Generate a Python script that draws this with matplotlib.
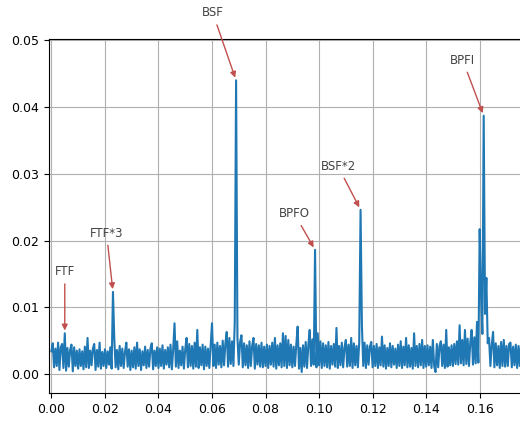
import numpy as np
import matplotlib
matplotlib.use('Agg')
import matplotlib.pyplot as plt

# envelope spectrum, amplitude in units of 1e-4, one bin every 0.0005
freq_step = 0.0005
amp_e4 = [
    34, 46, 10, 38, 12, 47, 6, 40, 45, 9, 61, 5, 39, 11, 36, 44, 4, 40, 12, 35,
    8, 37, 12, 34, 7, 41, 10, 54, 9, 35, 13, 38, 45, 6, 36, 11, 47, 8, 33, 12,
    37, 9, 34, 14, 40, 8, 123, 52, 10, 36, 7, 42, 12, 38, 9, 33, 47, 11, 37, 6,
    35, 10, 40, 8, 47, 12, 37, 6, 34, 13, 41, 9, 36, 11, 38, 46, 7, 35, 12, 40,
    9, 38, 12, 43, 8, 36, 14, 40, 10, 44, 7, 37, 76, 11, 49, 9, 35, 13, 41, 8,
    37, 54, 10, 45, 12, 42, 8, 47, 11, 66, 9, 40, 13, 44, 7, 41, 12, 38, 9, 43,
    76, 12, 44, 9, 47, 14, 42, 10, 50, 13, 46, 63, 11, 54, 15, 49, 12, 78, 440, 55,
    14, 48, 58, 10, 46, 13, 43, 9, 49, 12, 42, 54, 8, 45, 14, 43, 11, 47, 10, 41,
    12, 44, 9, 42, 14, 47, 11, 54, 8, 43, 13, 46, 10, 61, 12, 57, 9, 51, 13, 44,
    10, 41, 12, 45, 71, 8, 39, 3, 43, 11, 48, 9, 44, 66, 12, 52, 14, 186, 10, 61,
    13, 49, 9, 46, 12, 43, 10, 48, 8, 42, 14, 45, 11, 69, 9, 42, 13, 47, 10, 40,
    51, 11, 44, 12, 54, 9, 46, 13, 42, 10, 48, 246, 73, 12, 47, 9, 43, 14, 41, 48,
    10, 42, 12, 45, 9, 40, 13, 56, 11, 43, 8, 39, 12, 46, 10, 42, 14, 38, 9, 44,
    12, 49, 9, 41, 13, 54, 10, 43, 11, 39, 8, 61, 12, 42, 10, 45, 13, 51, 9, 42,
    11, 43, 13, 41, 9, 51, 12, 3, 45, 10, 42, 49, 12, 44, 9, 66, 11, 40, 13, 43,
    12, 45, 15, 49, 14, 73, 16, 51, 13, 66, 15, 53, 12, 48, 66, 14, 55, 16, 78, 17,
    217, 120, 60, 387, 90, 144, 46, 54, 12, 43, 63, 10, 46, 13, 42, 9, 48, 12, 51, 11,
    42, 12, 45, 47, 10, 41, 13, 44, 9, 42, 12, 46, 10, 40, 13, 43, 11, 41, 12, 42,
    10, 41, 13, 44, 11, 40, 12, 45, 9, 42, 12, 41, 11, 43, 10, 41, 13, 39, 12, 43, 10,
]

# fault frequencies and where their labels sit
fault_names = ['FTF', 'FTF*3', 'BSF', 'BPFO', 'BSF*2', 'BPFI']
fault_freqs = [0.005, 0.023, 0.069, 0.0985, 0.1155, 0.1615]
label_x = [0.005, 0.0206, 0.0603, 0.0908, 0.1071, 0.1537]
label_y = [0.0153, 0.0211, 0.0541, 0.0240, 0.0311, 0.0470]

amp = np.array(amp_e4) * 1e-4
freq = np.arange(len(amp)) * freq_step

fig = plt.figure(figsize=(5.2, 4.22), dpi=100)
ax = fig.add_axes([0.0942, 0.0687, 0.9827, 0.8389])
ax.plot(freq, amp, color='#1f77b4', lw=1.5)

for name, f, tx, ty in zip(fault_names, fault_freqs, label_x, label_y):
    i = np.argmin(np.abs(freq - f))
    ax.annotate(name, xy=(freq[i], amp[i]), xytext=(tx, ty),
                ha='center', va='center', fontsize=8.5, color='#444444',
                annotation_clip=False,
                arrowprops=dict(arrowstyle='-|>', color='#c0504d', lw=1))

ax.set_xlim(-0.0009, 0.19)
ax.set_ylim(-0.00285, 0.0502)
ax.set_xticks(np.arange(0, 0.17, 0.02))
ax.set_yticks(np.arange(0, 0.051, 0.01))
ax.xaxis.set_major_formatter(plt.FormatStrFormatter('%.2f'))
ax.yaxis.set_major_formatter(plt.FormatStrFormatter('%.2f'))
ax.tick_params(labelsize=9)
ax.grid(True, color='#b0b0b0', lw=0.8)
ax.set_axisbelow(True)

fig.savefig('out.png', dpi=100)
